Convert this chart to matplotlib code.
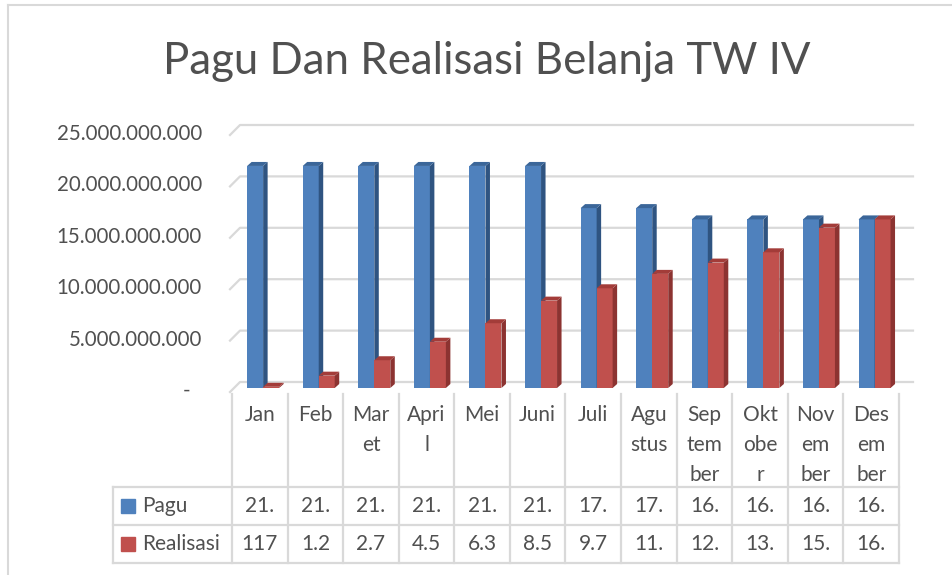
import matplotlib
matplotlib.use("Agg")
import matplotlib.pyplot as plt
from matplotlib.patches import Polygon, Rectangle
from matplotlib.lines import Line2D
from matplotlib import transforms

# data
bulan = ["Jan", "Feb", "Mar\net", "Apri\nl", "Mei", "Juni", "Juli",
         "Agu\nstus", "Sep\ntem\nber", "Okt\nobe\nr", "Nov\nem\nber", "Des\nem\nber"]
pagu = [21.6e9, 21.6e9, 21.6e9, 21.6e9, 21.6e9, 21.6e9,
        17.5e9, 17.5e9, 16.4e9, 16.4e9, 16.4e9, 16.4e9]
realisasi = [0.1174e9, 1.2e9, 2.7e9, 4.5e9, 6.3e9, 8.5e9,
             9.7e9, 11.1e9, 12.2e9, 13.2e9, 15.6e9, 16.4e9]
seri = ["Pagu", "Realisasi"]
yticks = [0, 5e9, 10e9, 15e9, 20e9, 25e9]

W, H = 953, 575
TXT = "#505050"
GRID = "#d9d9d9"
warna = [("#4f81bd", "#2f5481", "#3b6699"), ("#c0504d", "#8c3331", "#a33c39")]

plt.rcParams["font.family"] = ["Lato", "DejaVu Sans"]


def rupiah(v):
    return f"{v:,.0f}".replace(",", ".")


def fy(p):
    return 1 - p / H


fig = plt.figure(figsize=(W / 100, H / 100), dpi=100)
fig.patch.set_facecolor("white")

# plot area in pixels (front plane of the bars)
left, right, bottom, top = 232, 899, 388, 131
ax = fig.add_axes([left / W, 1 - bottom / H, (right - left) / W, (bottom - top) / H])
ax.set_xlim(-0.5, len(bulan) - 0.5)
ax.set_ylim(0, 25e9)
ax.axis("off")

px_x = len(bulan) / (right - left)
px_y = 25e9 / (bottom - top)

# gridlines on the back wall + side wall
for v in yticks:
    ax.plot([-0.5 - 2 * px_x, -0.5 + 8 * px_x, -0.5 + 681 * px_x],
            [v - 4 * px_y, v + 6 * px_y, v + 6 * px_y],
            color=GRID, lw=1.6, clip_on=False, zorder=0)
    lab = "-" if v == 0 else rupiah(v)
    xx = -0.5 - (42 if v == 0 else 30) * px_x
    ax.text(xx, v - 3 * px_y, lab, ha="right", va="center",
            fontsize=14.8, color=TXT, clip_on=False)

# 3D-ish columns
w = 16 * px_x
dx, dy = 4.5 * px_x, 4 * px_y
for s, vals in enumerate([pagu, realisasi]):
    depan, sisi, atas = warna[s]
    for i, v in enumerate(vals):
        x0 = i + 0.06 - w + s * w
        x1 = x0 + w
        ax.bar(x0, v, width=w, align="edge", color=depan, zorder=2 + s)
        ax.add_patch(Polygon([(x1, 0), (x1 + dx, dy), (x1 + dx, v + dy), (x1, v)],
                             closed=True, color=sisi, zorder=2 + s, lw=0))
        ax.add_patch(Polygon([(x0, v), (x1, v), (x1 + dx, v + dy), (x0 + dx, v + dy)],
                             closed=True, color=atas, zorder=2 + s, lw=0))

# title
fig.text(487 / W, fy(61), "Pagu Dan Realisasi Belanja TW IV",
         ha="center", va="center", fontsize=31.5, color=TXT)

# data table
tr = transforms.blended_transform_factory(ax.transData, fig.transFigure)
x_leg = -0.5 - 119 * px_x
for k in range(len(bulan) + 1):
    fig.add_artist(Line2D([k - 0.5, k - 0.5], [fy(394), fy(563)], transform=tr,
                          color=GRID, lw=1.6))
for yy in [487, 525, 563]:
    fig.add_artist(Line2D([x_leg, len(bulan) - 0.5], [fy(yy), fy(yy)], transform=tr,
                          color=GRID, lw=1.6))
fig.add_artist(Line2D([x_leg, x_leg], [fy(487), fy(563)], transform=tr,
                      color=GRID, lw=1.6))

for i, lab in enumerate(bulan):
    for j, part in enumerate(lab.split("\n")):
        fig.text(i, fy(415 + 30 * j), part, transform=tr, ha="center", va="center",
                 fontsize=15, color=TXT)

for r, (nama, vals) in enumerate(zip(seri, [pagu, realisasi])):
    yc = 506 + 38 * r
    fig.add_artist(Rectangle((121 / W, fy(yc + 7)), 14 / W, 14 / H,
                             transform=fig.transFigure, color=warna[r][0]))
    fig.text(142 / W, fy(yc), nama, ha="left", va="center", fontsize=15, color=TXT)
    for i, v in enumerate(vals):
        fig.text(i, fy(yc), rupiah(v)[:3], transform=tr, ha="center", va="center",
                 fontsize=15, color=TXT)

# chart border
fig.add_artist(Line2D([8 / W, 1], [fy(5), fy(5)], transform=fig.transFigure, color=GRID, lw=1.5))
fig.add_artist(Line2D([8 / W, 8 / W], [fy(5), 0], transform=fig.transFigure, color=GRID, lw=1.5))

fig.savefig("out.png", dpi=100)
